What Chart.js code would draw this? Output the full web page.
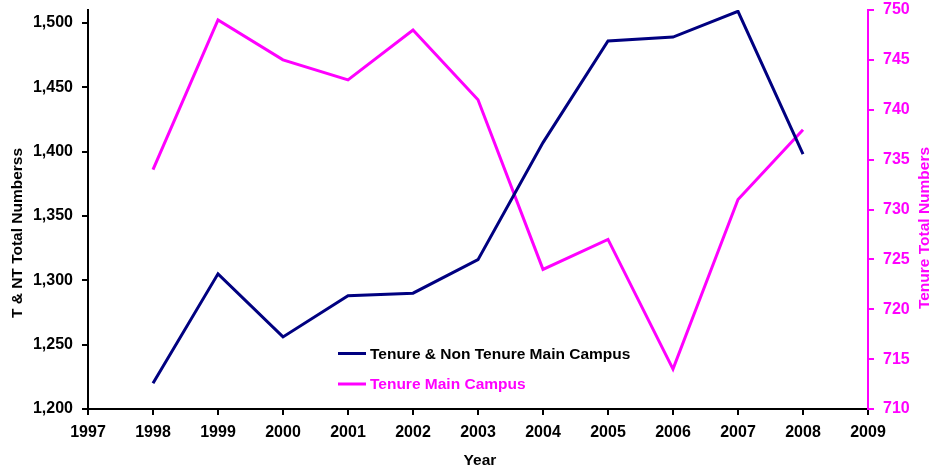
<!DOCTYPE html>
<html>
<head>
<meta charset="utf-8">
<script src="https://cdn.jsdelivr.net/npm/chart.js@4/dist/chart.umd.min.js"></script>
<style>
html,body{margin:0;padding:0;background:#fff;}
#wrap{width:933px;height:473px;position:relative;}
</style>
</head>
<body>
<div id="wrap"><canvas id="c"></canvas></div>
<script>
const years = [1998, 1999, 2000, 2001, 2002, 2003, 2004, 2005, 2006, 2007, 2008];
const tntTotal = [1220, 1305, 1256, 1288, 1290, 1316, 1407, 1486, 1489, 1509, 1398];
const tenureTotal = [734, 749, 745, 743, 748, 741, 724, 727, 714, 731, 738];
const xTicks = [1997, 1998, 1999, 2000, 2001, 2002, 2003, 2004, 2005, 2006, 2007, 2008, 2009];
const leftTicks = [1200, 1250, 1300, 1350, 1400, 1450, 1500];
const rightTicks = [710, 715, 720, 725, 730, 735, 740, 745, 750];
const seriesNames = ['Tenure & Non Tenure Main Campus', 'Tenure Main Campus'];
const xTitle = 'Year';
const yLeftTitle = 'T & NT Total Numberss';
const yRightTitle = 'Tenure Total Numbers';

const NAVY = '#000080';
const MAGENTA = '#FF00FF';
const FONT = 'Liberation Sans, Arial, sans-serif';

const overlay = {
  id: 'overlay',
  afterDraw(chart) {
    const ctx = chart.ctx;
    ctx.save();
    ctx.font = 'bold 15.5px ' + FONT;
    ctx.textBaseline = 'middle';
    ctx.fillStyle = '#000';
    ctx.textAlign = 'center';
    ctx.fillText(xTitle, 480, 461);
    ctx.save();
    ctx.translate(18, 233);
    ctx.rotate(-Math.PI / 2);
    ctx.fillText(yLeftTitle, 0, 0);
    ctx.restore();
    ctx.save();
    ctx.fillStyle = MAGENTA;
    ctx.translate(925, 228);
    ctx.rotate(-Math.PI / 2);
    ctx.fillText(yRightTitle, 0, 0);
    ctx.restore();
    const ys = [353.5, 384];
    chart.data.datasets.forEach((ds, i) => {
      ctx.strokeStyle = ds.borderColor;
      ctx.lineWidth = 3;
      ctx.beginPath();
      ctx.moveTo(338, ys[i]);
      ctx.lineTo(366, ys[i]);
      ctx.stroke();
      ctx.textAlign = 'left';
      ctx.fillStyle = i === 0 ? '#000' : MAGENTA;
      ctx.fillText(ds.label, 370, ys[i] + 1);
    });
    ctx.restore();
  }
};

const mk = arr => arr.map(v => ({value: v}));
const noPad = s => { s.paddingTop = 0; s.paddingBottom = 0; s.paddingLeft = 0; s.paddingRight = 0; };

new Chart(document.getElementById('c'), {
  type: 'line',
  data: {
    datasets: [
      {
        label: seriesNames[0],
        data: years.map((y, i) => ({x: y, y: tntTotal[i]})),
        borderColor: NAVY,
        backgroundColor: NAVY,
        borderWidth: 3,
        pointRadius: 0,
        tension: 0,
        yAxisID: 'y'
      },
      {
        label: seriesNames[1],
        data: years.map((y, i) => ({x: y, y: tenureTotal[i]})),
        borderColor: MAGENTA,
        backgroundColor: MAGENTA,
        borderWidth: 3,
        pointRadius: 0,
        tension: 0,
        yAxisID: 'y2'
      }
    ]
  },
  options: {
    responsive: true,
    maintainAspectRatio: false,
    animation: false,
    layout: {padding: {top: 10, left: 0, right: 0, bottom: 0}},
    plugins: {legend: {display: false}, tooltip: {enabled: false}},
    scales: {
      x: {
        type: 'linear',
        min: 1997,
        max: 2009,
        afterFit(s) { s.height = 64; noPad(s); },
        afterBuildTicks(s) { s.ticks = mk(xTicks); },
        grid: {drawOnChartArea: false, drawTicks: true, tickLength: 6, color: '#000', lineWidth: 2},
        border: {color: '#000', width: 2},
        ticks: {
          padding: 8,
          color: '#000',
          font: {family: FONT, size: 16, weight: 'bold'},
          callback: v => String(v),
          maxRotation: 0,
          autoSkip: false
        }
      },
      y: {
        position: 'left',
        min: 1200,
        max: 1510,
        afterFit(s) { s.width = 88; noPad(s); },
        afterBuildTicks(s) { s.ticks = mk(leftTicks); },
        grid: {drawOnChartArea: false, drawTicks: true, tickLength: 6, color: '#000', lineWidth: 2},
        border: {color: '#000', width: 2},
        ticks: {
          padding: 9,
          color: '#000',
          font: {family: FONT, size: 16, weight: 'bold'},
          callback: v => v.toLocaleString('en-US')
        }
      },
      y2: {
        position: 'right',
        min: 710,
        max: 750,
        afterFit(s) { s.width = 65; noPad(s); },
        afterBuildTicks(s) { s.ticks = mk(rightTicks); },
        grid: {drawOnChartArea: false, drawTicks: true, tickLength: 6, color: MAGENTA, lineWidth: 2},
        border: {color: MAGENTA, width: 2},
        ticks: {
          padding: 9,
          color: MAGENTA,
          font: {family: FONT, size: 16, weight: 'bold'}
        }
      }
    }
  },
  plugins: [overlay]
});
</script>
</body>
</html>
